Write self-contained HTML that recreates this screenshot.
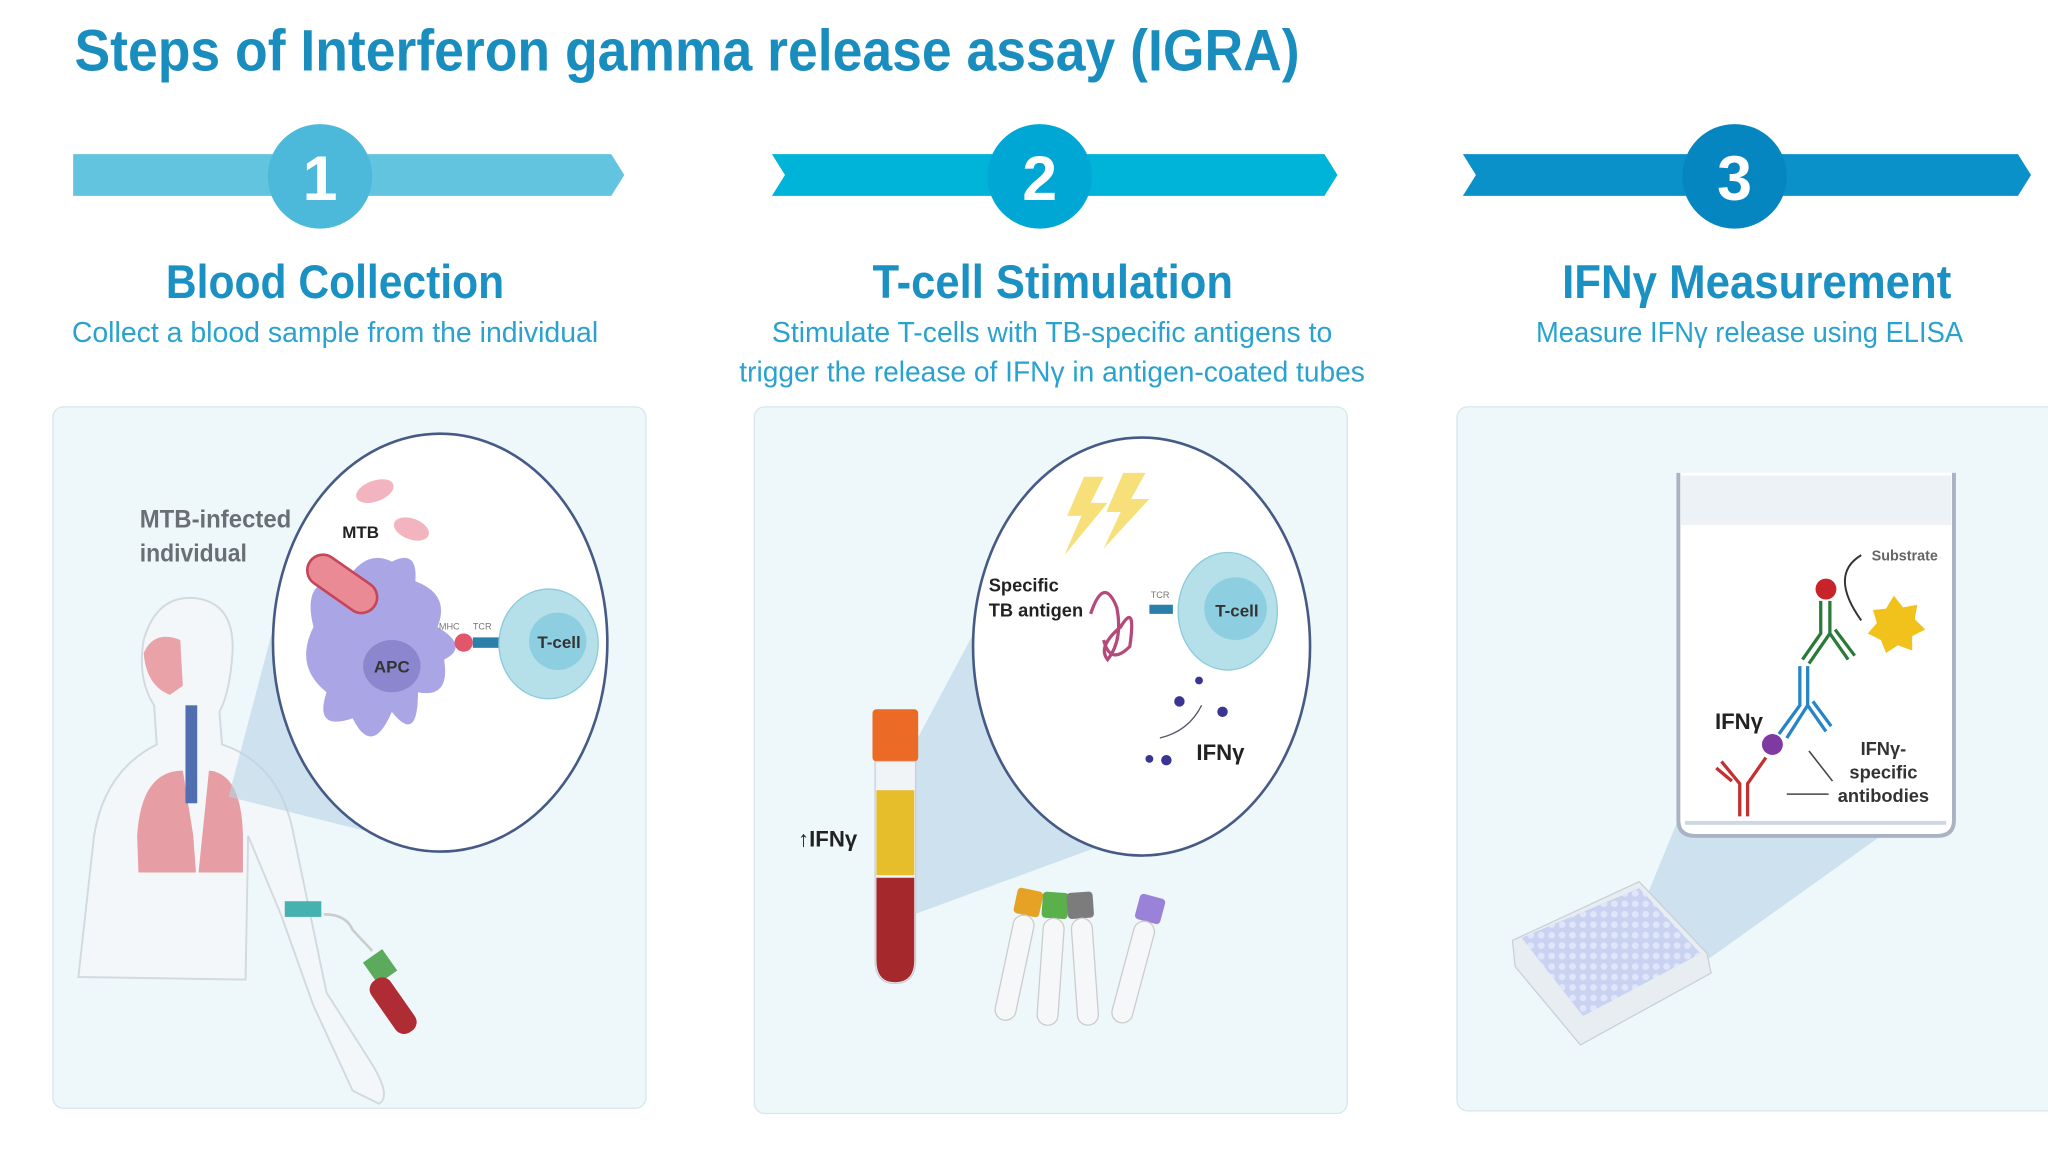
<!DOCTYPE html>
<html><head><meta charset="utf-8"><style>
html,body{margin:0;padding:0;background:#fff;width:2048px;height:1152px;overflow:hidden}
svg{display:block}
text{font-family:"Liberation Sans",sans-serif}
</style></head><body>
<svg width="2048" height="1152" viewBox="0 0 1568 882" preserveAspectRatio="none" xmlns="http://www.w3.org/2000/svg">
<defs>
<pattern id="wells" width="8" height="8" patternUnits="userSpaceOnUse"><rect width="8" height="8" fill="#c9d2f0"/><circle cx="4" cy="4" r="2.6" fill="#dfe5fa"/></pattern>
</defs>
<rect width="1568" height="882" fill="#fff"/>
<text x="57" y="54" font-size="45" font-weight="bold" fill="#1a8dbf" textLength="938" lengthAdjust="spacingAndGlyphs">Steps of Interferon gamma release assay (IGRA)</text>

<polygon points="56,118 468,118 478,134 468,150 56,150" fill="#62c4df"/>
<circle cx="245" cy="135" r="40" fill="#4db9da"/>
<text x="245" y="153" font-size="48" font-weight="bold" fill="#fff" text-anchor="middle">1</text>

<polygon points="591,118 1014,118 1024,134 1014,150 591,150 601,134" fill="#00b3d9"/>
<circle cx="796" cy="135" r="40" fill="#00a7d4"/>
<text x="796" y="153" font-size="48" font-weight="bold" fill="#fff" text-anchor="middle">2</text>

<polygon points="1120,118 1545,118 1555,134 1545,150 1120,150 1130,134" fill="#0b91c9"/>
<circle cx="1328" cy="135" r="40" fill="#0686c1"/>
<text x="1328" y="153" font-size="48" font-weight="bold" fill="#fff" text-anchor="middle">3</text>

<text x="127" y="228" font-size="36" font-weight="bold" fill="#1b90c2" textLength="259" lengthAdjust="spacingAndGlyphs">Blood Collection</text>
<text x="55" y="262" font-size="22" fill="#2aa2cf" textLength="403" lengthAdjust="spacingAndGlyphs">Collect a blood sample from the individual</text>
<text x="668" y="228" font-size="36" font-weight="bold" fill="#1b90c2" textLength="276" lengthAdjust="spacingAndGlyphs">T-cell Stimulation</text>
<text x="591" y="262" font-size="22" fill="#2aa2cf" textLength="429" lengthAdjust="spacingAndGlyphs">Stimulate T-cells with TB-specific antigens to</text>
<text x="566" y="292" font-size="22" fill="#2aa2cf" textLength="479" lengthAdjust="spacingAndGlyphs">trigger the release of IFNγ in antigen-coated tubes</text>
<text x="1196" y="228" font-size="36" font-weight="bold" fill="#1b90c2" textLength="298" lengthAdjust="spacingAndGlyphs">IFNγ Measurement</text>
<text x="1176" y="262" font-size="22" fill="#2aa2cf" textLength="327" lengthAdjust="spacingAndGlyphs">Measure IFNγ release using ELISA</text>

<rect x="40.5" y="311.5" width="454" height="537" rx="8" fill="#eef8fb" stroke="#d6e6ec"/>
<rect x="577.5" y="311.5" width="454" height="541" rx="8" fill="#eef8fb" stroke="#d6e6ec"/>
<rect x="1115.5" y="311.5" width="470" height="539" rx="8" fill="#eef8fb" stroke="#d6e6ec"/>

<!-- panel 1 -->
<g fill="#f4f7f9" stroke="#d3dadf" stroke-width="1.5">
<path d="M60,748 L72,640 Q80,590 120,570 L118,540 Q105,520 110,490 Q120,455 150,458 Q180,462 178,500 Q176,530 168,545 L170,570 Q215,585 225,640 L250,760 L285,815 Q300,840 290,845 L270,835 L240,770 L215,700 L190,640 L188,750 Z"/>
</g>
<path d="M110,500 Q118,482 138,490 L140,525 L130,532 Q112,525 110,500Z" fill="#e9a3a8"/>
<path d="M105,640 Q108,590 140,590 L148,640 L150,668 L106,668Z" fill="#e48d95" opacity=".85"/>
<path d="M160,590 Q185,592 186,640 L186,668 L152,668Z" fill="#e48d95" opacity=".85"/>
<rect x="142" y="540" width="9" height="75" fill="#4f6fb0"/>
<polygon points="175,610 212,470 335,650" fill="#b7d3e6" opacity=".6"/>
<rect x="218" y="690" width="28" height="12" fill="#46b2b0"/>
<path d="M248,700 Q265,700 270,712 L285,728" stroke="#ccc" stroke-width="2" fill="none"/>
<rect x="282" y="730" width="18" height="20" fill="#5cab5c" transform="rotate(-35 291 740)"/>
<rect x="292" y="746" width="18" height="48" rx="8" fill="#b02c34" transform="rotate(-35 301 770)"/>
<text x="107" y="404" font-size="19" font-weight="bold" fill="#6a6f74" textLength="116" lengthAdjust="spacingAndGlyphs">MTB-infected</text>
<text x="107" y="430" font-size="19" font-weight="bold" fill="#6a6f74" textLength="82" lengthAdjust="spacingAndGlyphs">individual</text>
<ellipse cx="337" cy="492" rx="128" ry="160" fill="#fff" stroke="#465a86" stroke-width="2"/>
<ellipse cx="287" cy="376" rx="15" ry="8" fill="#f2b5bf" transform="rotate(-20 287 376)"/>
<ellipse cx="315" cy="405" rx="14" ry="8" fill="#f2b5bf" transform="rotate(20 315 405)"/>
<text x="262" y="412" font-size="13" font-weight="bold" fill="#222">MTB</text>
<path d="M240,480 Q230,440 265,445 Q280,420 300,430 Q320,420 318,445 Q345,455 335,480 Q360,495 340,505 Q345,535 320,530 Q320,570 300,545 Q285,580 270,550 Q240,560 250,530 Q225,510 240,480Z" fill="#aaa6e6"/>
<ellipse cx="300" cy="510" rx="22" ry="20" fill="#8c86cf"/>
<text x="300" y="515" font-size="13" font-weight="bold" fill="#333" text-anchor="middle">APC</text>
<rect x="232" y="435" width="60" height="24" rx="12" fill="#e98a95" stroke="#c74459" stroke-width="2" transform="rotate(35 262 447)"/>
<circle cx="355" cy="492" r="7" fill="#e2566c"/>
<rect x="362" y="488" width="28" height="8" fill="#2b7fa8"/>
<text x="336" y="482" font-size="7" fill="#777">MHC</text><text x="362" y="482" font-size="7" fill="#777">TCR</text>
<ellipse cx="420" cy="493" rx="38" ry="42" fill="#b5e0ea" stroke="#8ccadb"/>
<circle cx="427" cy="491" r="22" fill="#8dcfe0"/>
<text x="428" y="496" font-size="13" font-weight="bold" fill="#333" text-anchor="middle">T-cell</text>

<!-- panel 2 -->
<polygon points="700,570 748,480 760,560 850,645 700,700" fill="#b7d3e6" opacity=".6"/>
<ellipse cx="874" cy="495" rx="129" ry="160" fill="#fff" stroke="#465a86" stroke-width="2"/>
<polygon points="830,365 845,365 835,385 848,385 815,425 828,395 817,395" fill="#f7e07a"/>
<polygon points="860,362 877,362 866,382 880,382 845,420 858,392 847,392" fill="#f7e07a"/>
<text x="757" y="453" font-size="14" font-weight="bold" fill="#222">Specific</text>
<text x="757" y="472" font-size="14" font-weight="bold" fill="#222">TB antigen</text>
<path d="M835,470 Q845,440 855,465 Q860,490 848,505 Q840,495 858,480 Q870,460 865,495 Q850,510 845,490" stroke="#b54a7a" stroke-width="2.5" fill="none"/>
<rect x="880" y="463" width="18" height="7" fill="#2b7fa8"/>
<text x="881" y="458" font-size="7" fill="#777">TCR</text>
<ellipse cx="940" cy="468" rx="38" ry="45" fill="#b5e0ea" stroke="#8ccadb"/>
<circle cx="946" cy="466" r="24" fill="#8dcfe0"/>
<text x="947" y="472" font-size="13" font-weight="bold" fill="#333" text-anchor="middle">T-cell</text>
<g fill="#3a3590"><circle cx="903" cy="537" r="4"/><circle cx="936" cy="545" r="4"/><circle cx="893" cy="582" r="4"/><circle cx="918" cy="521" r="3"/><circle cx="880" cy="581" r="3"/></g>
<path d="M920,540 Q910,560 888,565" stroke="#556" fill="none"/>
<text x="916" y="582" font-size="17" font-weight="bold" fill="#222">IFNγ</text>
<rect x="668" y="543" width="35" height="40" rx="3" fill="#ea6a26"/>
<path d="M670,583 L701,583 L701,735 Q701,753 685,753 Q670,753 670,735Z" fill="#f1f4f6" stroke="#ccd"/>
<rect x="671" y="605" width="29" height="65" fill="#e6bd2b"/>
<path d="M671,672 L700,672 L700,735 Q700,752 685,752 Q671,752 671,735Z" fill="#a5282c"/>
<text x="611" y="648" font-size="17" font-weight="bold" fill="#222">↑IFNγ</text>
<g transform="rotate(12 778 735)"><rect x="768" y="680" width="20" height="20" rx="3" fill="#e5a224"/><rect x="770" y="700" width="16" height="82" rx="8" fill="#f6f7f8" stroke="#ccc"/></g>
<g transform="rotate(4 804 735)"><rect x="795" y="683" width="20" height="20" rx="3" fill="#5ab04a"/><rect x="797" y="703" width="16" height="82" rx="8" fill="#f6f7f8" stroke="#ccc"/></g>
<g transform="rotate(-4 830 735)"><rect x="820" y="683" width="20" height="20" rx="3" fill="#7c7c7c"/><rect x="822" y="703" width="16" height="82" rx="8" fill="#f6f7f8" stroke="#ccc"/></g>
<g transform="rotate(15 868 735)"><rect x="860" y="684" width="20" height="20" rx="3" fill="#9a82d8"/><rect x="862" y="704" width="16" height="80" rx="8" fill="#f6f7f8" stroke="#ccc"/></g>

<!-- panel 3 -->
<polygon points="1255,700 1288,620 1440,640 1300,740" fill="#b7d3e6" opacity=".6"/>
<path d="M1285,362 L1285,628 Q1285,640 1298,640 L1483,640 Q1496,640 1496,628 L1496,362" fill="#fff" stroke="#a9b3c3" stroke-width="3"/>
<rect x="1287" y="364" width="207" height="38" fill="#ecf2f6"/>
<path d="M1290,630 L1490,630" stroke="#cfd8e2" stroke-width="3"/>
<text x="1433" y="429" font-size="11" font-weight="bold" fill="#666">Substrate</text>
<path d="M1425,425 Q1400,440 1425,475" stroke="#333" fill="none" stroke-width="1.5"/>
<polygon points="1450,456 1457,465 1468,463 1466,474 1474,482 1464,487 1464,498 1453,494 1444,500 1440,490 1430,485 1437,477 1434,467 1444,466" fill="#f2c21c"/>
<circle cx="1398" cy="451" r="8" fill="#c8232b"/>
<g stroke="#2a7a3a" stroke-width="2.5" fill="none"><path d="M1394,460 L1394,485 L1380,505 M1401,460 L1401,485 L1385,508 M1401,485 L1415,505 M1405,482 L1420,502"/></g>
<g stroke="#2585c6" stroke-width="2.5" fill="none"><path d="M1378,510 L1378,540 L1362,562 M1384,510 L1384,540 L1368,565 M1384,540 L1398,560 M1388,537 L1402,556"/></g>
<circle cx="1357" cy="570" r="8" fill="#7e3aa1"/>
<g stroke="#c43030" stroke-width="2.5" fill="none"><path d="M1332,625 L1332,600 L1318,583 M1338,625 L1338,600 L1352,580 M1326,598 L1314,588"/></g>
<text x="1313" y="558" font-size="17" font-weight="bold" fill="#222">IFNγ</text>
<text x="1442" y="578" font-size="14" font-weight="bold" fill="#333" text-anchor="middle">IFNγ-</text>
<text x="1442" y="596" font-size="14" font-weight="bold" fill="#333" text-anchor="middle">specific</text>
<text x="1442" y="614" font-size="14" font-weight="bold" fill="#333" text-anchor="middle">antibodies</text>
<path d="M1403,598 L1385,575 M1400,608 L1368,608" stroke="#444" stroke-width="1.2"/>
<polygon points="1158,720 1255,675 1307,730 1310,745 1210,800 1160,740" fill="#e8edf2" stroke="#c9d0d8"/>
<polygon points="1165,718 1255,680 1302,730 1212,778" fill="url(#wells)"/>
</svg>
</body></html>
